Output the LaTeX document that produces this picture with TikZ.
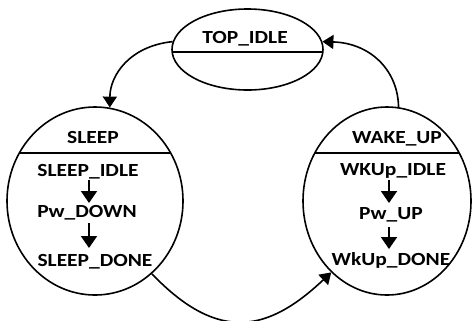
\documentclass[tikz,border=0pt]{standalone}
\usepackage{fontspec}
\setmainfont{Carlito}[FakeStretch=1.16]
\usetikzlibrary{shapes.geometric,arrows.meta,calc}
\tikzset{
  state/.style={ellipse, draw, line width=1.6bp, inner sep=0pt},
  lab/.style={anchor=base, inner sep=0pt, font=\fontsize{18.5bp}{20bp}\selectfont\bfseries},
  conn/.style={line width=1.6bp, -{Triangle[length=11bp,width=14bp]}},
  inarr/.style={line width=2bp, -{Triangle[length=12bp,width=16bp]}},
  divider/.style={line width=1.6bp}
}
\begin{document}
\begin{tikzpicture}[x=1bp,y=-1bp]
\useasboundingbox (0,0) rectangle (472,320);
% states
\node[state, minimum width=151bp, minimum height=81bp] (top) at (247.5,49.5) {};
\node[state, minimum width=176bp, minimum height=188bp] (sleep) at (95,201) {};
\node[state, minimum width=168bp, minimum height=188bp] (wake) at (387,201) {};
% dividers
\draw[divider] ($(top.center)+(-75.4,2.5)$) -- ($(top.center)+(75.4,2.5)$);
\draw[divider] ($(sleep.center)+(-75.7,-48)$) -- ($(sleep.center)+(75.7,-48)$);
\draw[divider] ($(wake.center)+(-72.2,-48)$) -- ($(wake.center)+(72.2,-48)$);
% labels
\node[lab] (ttop) at (245,43) {TOP\_IDLE};
\node[lab] (tsleep) at (93,143) {SLEEP};
\node[lab] (sidle) at (88,176) {SLEEP\_IDLE};
\node[lab] (pwdown) at (87,217) {Pw\_DOWN};
\node[lab] (sdone) at (95,266) {SLEEP\_DONE};
\node[lab] (twake) at (397,143) {WAKE\_UP};
\node[lab] (widle) at (393,175) {WKUp\_IDLE};
\node[lab] (pwup) at (391,219) {Pw\_UP};
\node[lab] (wdone) at (391,265) {WkUp\_DONE};
% inner arrows
\draw[inarr] ($(sidle.base)+(1,4)$) -- ($(pwdown.base)+(2,-14)$);
\draw[inarr] ($(pwdown.base)+(2,6)$) -- ($(pwdown.base)+(2,31)$);
\draw[inarr] ($(widle.base)+(-4,5)$) -- ($(pwup.base)+(-2,-16)$);
\draw[inarr] ($(pwup.base)+(-2,8)$) -- ($(wdone.base)+(-2,-16)$);
% transitions
\draw[conn] (top.174) .. controls (130,46) and (110,75) .. (sleep.81);
\draw[conn] (wake.83) .. controls (398,70) and (370,43) .. (top.6);
\draw[conn] (sleep.-52) .. controls (220,345) and (270,330) .. (wake.232);
\end{tikzpicture}
\end{document}
